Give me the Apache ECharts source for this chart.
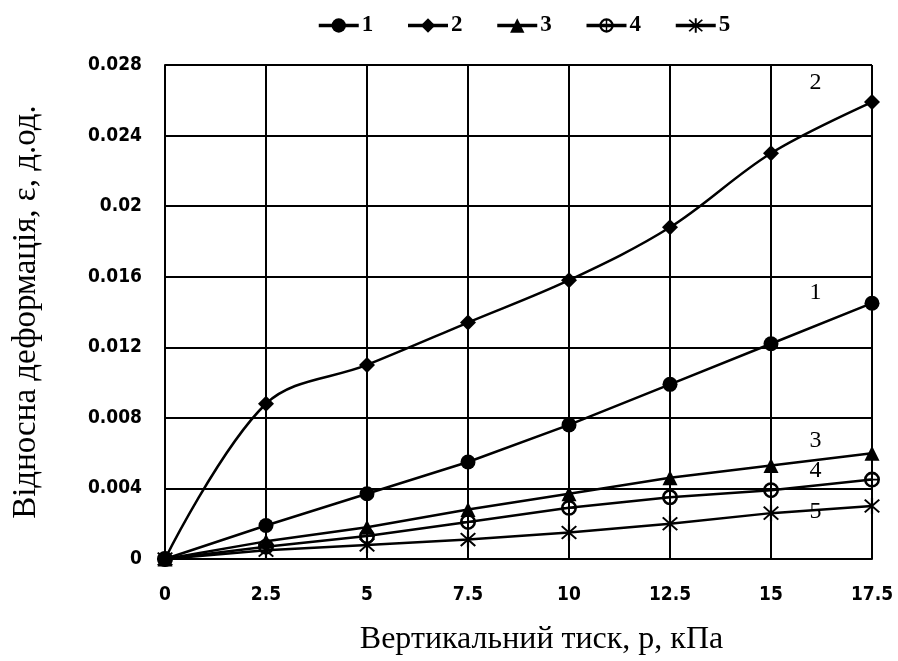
<!DOCTYPE html>
<html>
<head>
<meta charset="utf-8">
<script src="https://cdn.jsdelivr.net/npm/echarts@6/dist/echarts.min.js"></script>
<style>
  html, body { margin: 0; padding: 0; background: #fff; }
  #chart { width: 898px; height: 661px; }
</style>
</head>
<body>
<div id="chart"></div>
<script>
var pressure = [0, 2.5, 5, 7.5, 10, 12.5, 15, 17.5];
var s1 = [0, 0.0019, 0.0037, 0.0055, 0.0076, 0.0099, 0.0122, 0.0145];
var s2 = [0, 0.0088, 0.0110, 0.0134, 0.0158, 0.0188, 0.0230, 0.0259];
var s3 = [0, 0.0010, 0.0018, 0.0028, 0.0037, 0.0046, 0.0053, 0.0060];
var s4 = [0, 0.0007, 0.0013, 0.0021, 0.0029, 0.0035, 0.0039, 0.0045];
var s5 = [0, 0.0005, 0.0008, 0.0011, 0.0015, 0.0020, 0.0026, 0.0030];
var seriesNames = ['1', '2', '3', '4', '5'];
// where the curve numbers sit next to the lines (data coords)
var curveLabels = [[16.1, 0.0151], [16.1, 0.0270], [16.1, 0.0067], [16.1, 0.0050], [16.1, 0.0027]];

var chartDom = document.getElementById('chart');
var myChart = echarts.init(chartDom);

var asterisk = 'path://M4.4 0 L5.6 0 L5.6 10 L4.4 10 Z M0.6 1.4 L1.4 0.6 L9.4 8.6 L8.6 9.4 Z M8.6 0.6 L9.4 1.4 L1.4 9.4 L0.6 8.6 Z';
var circlePlus = 'path://M5 0 A5 5 0 1 1 5 10 A5 5 0 1 1 5 0 Z M5 1.6 A3.4 3.4 0 1 0 5 8.4 A3.4 3.4 0 1 0 5 1.6 Z M1 4.5 L9 4.5 L9 5.5 L1 5.5 Z M4.5 1 L5.5 1 L5.5 9 L4.5 9 Z';
var symbols = ['circle', 'diamond', 'triangle', circlePlus, asterisk];
var sizes = [15, 16, 15, 16, 16];
var allData = [s1, s2, s3, s4, s5];

function pairs(vals) {
  return pressure.map(function (p, i) { return [p, vals[i]]; });
}

var series = allData.map(function (vals, k) {
  return {
    name: seriesNames[k],
    type: 'line',
    data: pairs(vals),
    smooth: k === 1 ? 0.35 : false,
    symbol: symbols[k],
    symbolSize: sizes[k],
    showAllSymbol: true,
    lineStyle: { color: '#000', width: 2.5 },
    itemStyle: { color: '#000', borderWidth: 0 },
    emphasis: { disabled: true },
    markPoint: {
      symbol: 'circle',
      symbolSize: 1,
      silent: true,
      itemStyle: { color: 'rgba(0,0,0,0)' },
      data: [{
        coord: curveLabels[k],
        label: {
          show: true,
          position: 'inside',
          formatter: seriesNames[k],
          color: '#000',
          fontFamily: 'Liberation Serif',
          fontSize: 24
        }
      }]
    }
  };
});

var option = {
  backgroundColor: '#fff',
  animation: false,
  legend: {
    data: seriesNames,
    top: 9,
    left: 312,
    itemWidth: 40,
    itemHeight: 18,
    itemGap: 33,
    lineStyle: { width: 3.5 },
    textStyle: { color: '#000', fontFamily: 'Liberation Serif', fontWeight: 'bold', fontSize: 23, padding: [0, 0, 0, -2] }
  },
  grid: { left: 165, right: 26, top: 65, bottom: 102 },
  xAxis: {
    type: 'value',
    min: 0,
    max: 17.5,
    interval: 2.5,
    name: 'Вертикальний тиск, p, кПа',
    nameLocation: 'middle',
    nameGap: 65,
    nameTextStyle: { color: '#000', fontFamily: 'Liberation Serif', fontSize: 32, padding: [0, 0, 0, 46] },
    axisLine: { lineStyle: { color: '#000', width: 2 } },
    axisTick: { show: false },
    axisLabel: { color: '#000', fontFamily: 'DejaVu Sans Condensed', fontWeight: 'bold', fontSize: 19, margin: 27 },
    splitLine: { show: true, lineStyle: { color: '#000', width: 2 } }
  },
  yAxis: {
    type: 'value',
    min: 0,
    max: 0.028,
    interval: 0.004,
    name: 'Відносна деформація, ε, д.од.',
    nameLocation: 'middle',
    nameGap: 122,
    nameTextStyle: { color: '#000', fontFamily: 'Liberation Serif', fontSize: 33 },
    axisLine: { show: true, lineStyle: { color: '#000', width: 2 } },
    axisTick: { show: false },
    axisLabel: { color: '#000', fontFamily: 'DejaVu Sans Condensed', fontWeight: 'bold', fontSize: 19, margin: 23 },
    splitLine: { show: true, lineStyle: { color: '#000', width: 2 } }
  },
  series: series
};

myChart.setOption(option);
</script>
</body>
</html>
